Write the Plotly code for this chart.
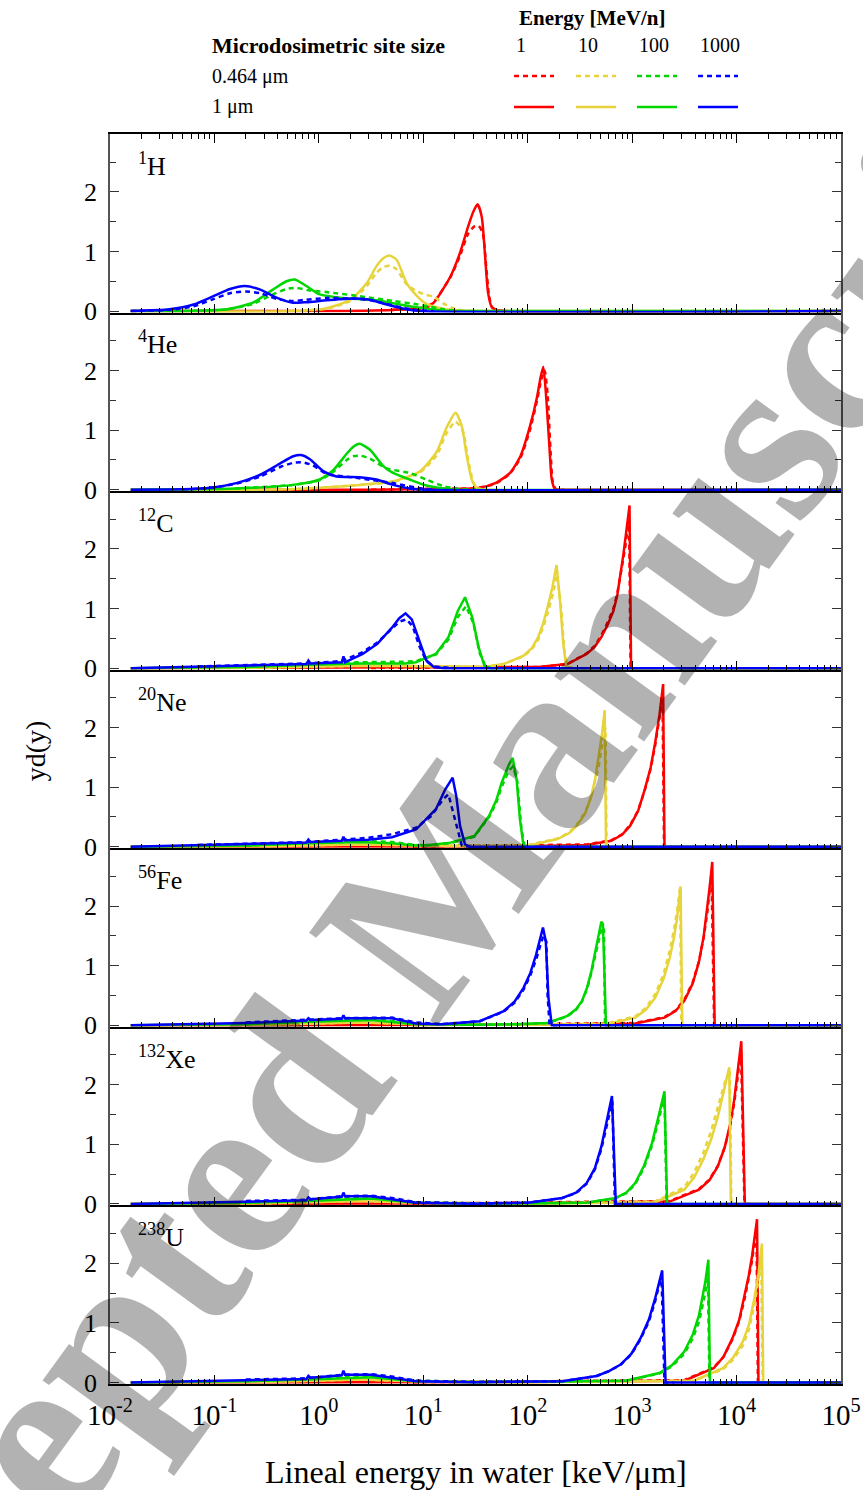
import plotly.graph_objects as go
from plotly.subplots import make_subplots

# ---------------------------------------------------------------------------
# Axis ticks
# ---------------------------------------------------------------------------
X_TICK_VALUES = [1e-2, 1e-1, 1e0, 1e1, 1e2, 1e3, 1e4, 1e5]
X_TICK_LABELS = ["10<sup>-2</sup>", "10<sup>-1</sup>", "10<sup>0</sup>", "10<sup>1</sup>",
                 "10<sup>2</sup>", "10<sup>3</sup>", "10<sup>4</sup>", "10<sup>5</sup>"]
X_MINOR_VALUES = [m * 10.0 ** p for p in range(-2, 5) for m in range(2, 10)]
Y_TICK_VALUES = [0, 1, 2]
Y_TICK_LABELS = ["0", "1", "2"]
Y_MINOR_VALUES = [0.5, 1.5, 2.5]

# ---------------------------------------------------------------------------
# Microdosimetric spectra yd(y): (lineal energy keV/um, yd(y)) pairs
# naming: <ion>_<energy MeV/n>_1um (solid) and <ion>_<energy>_0464um (dashed)
# ---------------------------------------------------------------------------
# 1H
H_1_1um = [(0.0158, 0), (1.0, 0), (5.01, 0.02), (10.7, 0.06), (12.6, 0.14), (18.2, 0.58), (22.4, 0.97),
           (26.9, 1.42), (30.2, 1.67), (33.1, 1.79), (36.3, 1.58), (38.9, 0.97), (41.7, 0.31),
           (45.2, 0.07), (50.1, 0.02), (63.1, 0), (1e5, 0)]
H_1_0464um = [(5.01, 0.02), (10.7, 0.07), (12.6, 0.15), (18.2, 0.57), (22.4, 0.92), (26.9, 1.30),
              (30.9, 1.42), (33.9, 1.43), (37.2, 1.30), (39.8, 0.80), (42.7, 0.25), (45.7, 0.06),
              (52.5, 0.01), (63.1, 0)]
H_10_1um = [(0.0158, 0), (0.562, 0), (1.19, 0.05), (2.0, 0.19), (2.88, 0.47), (3.55, 0.75), (4.17, 0.89),
            (4.79, 0.93), (5.56, 0.86), (6.92, 0.47), (8.71, 0.25), (10.7, 0.12), (15.5, 0.04),
            (22.4, 0.01), (31.6, 0), (1e5, 0)]
H_10_0464um = [(0.562, 0), (1.19, 0.04), (2.0, 0.17), (2.88, 0.42), (3.55, 0.64), (4.17, 0.74), (4.79, 0.76),
               (5.56, 0.70), (6.92, 0.45), (8.71, 0.33), (10.7, 0.27), (12.6, 0.24), (15.5, 0.13),
               (20.0, 0.04), (25.1, 0.01), (31.6, 0)]
H_100_1um = [(0.0158, 0), (0.0631, 0.005), (0.132, 0.03), (0.234, 0.14), (0.363, 0.36), (0.490, 0.50),
             (0.589, 0.53), (0.759, 0.42), (1.02, 0.28), (1.70, 0.22), (3.55, 0.18), (7.41, 0.08),
             (10.7, 0.04), (15.5, 0.01), (22.4, 0), (1e5, 0)]
H_100_0464um = [(0.0631, 0.005), (0.132, 0.03), (0.234, 0.12), (0.363, 0.28), (0.490, 0.37), (0.603, 0.39),
                (0.794, 0.35), (1.17, 0.32), (2.45, 0.25), (5.13, 0.17), (8.91, 0.11), (15.5, 0.03),
                (22.4, 0)]
H_1000_1um = [(0.0158, 0), (0.0372, 0.03), (0.0631, 0.11), (0.0977, 0.25), (0.141, 0.37), (0.195, 0.42),
              (0.275, 0.36), (0.398, 0.22), (0.562, 0.14), (0.759, 0.15), (1.19, 0.18), (2.14, 0.21),
              (3.09, 0.19), (4.47, 0.11), (6.46, 0.04), (9.33, 0), (1e5, 0)]
H_1000_0464um = [(0.0158, 0), (0.0372, 0.02), (0.0631, 0.08), (0.0977, 0.20), (0.141, 0.30), (0.20, 0.33),
                 (0.275, 0.30), (0.398, 0.20), (0.562, 0.17), (0.759, 0.19), (1.19, 0.22), (2.14, 0.21),
                 (3.09, 0.18), (4.47, 0.12), (6.46, 0.05), (9.33, 0.01), (12.6, 0)]

# 4He
He_1_1um = [(0.0158, 0), (3.16, 0), (10.0, 0.01), (33.9, 0.03), (50.1, 0.12), (67.6, 0.28), (85.1, 0.56),
            (105, 1.06), (123, 1.56), (132, 1.86), (141, 2.06), (151, 1.50), (162, 0.67), (170, 0.17),
            (182, 0.01), (224, 0), (1e5, 0)]
He_1_0464um = [(3.16, 0), (10.0, 0.01), (33.9, 0.03), (50.1, 0.11), (67.6, 0.27), (85.1, 0.53), (105, 1.0),
               (123, 1.5), (135, 1.85), (145, 2.0), (155, 1.6), (166, 0.6), (174, 0.12), (186, 0.01),
               (224, 0)]
He_10_1um = [(0.0158, 0), (0.501, 0.005), (1.19, 0.04), (2.45, 0.08), (5.13, 0.14), (9.33, 0.31),
             (13.5, 0.64), (16.6, 1.03), (20.4, 1.29), (23.4, 1.06), (26.1, 0.56), (29.1, 0.17),
             (32.4, 0.03), (39.8, 0), (1e5, 0)]
He_10_0464um = [(0.501, 0.005), (1.19, 0.04), (2.45, 0.08), (5.13, 0.13), (9.33, 0.29), (13.5, 0.58),
                (16.6, 0.94), (20.4, 1.14), (24.0, 0.98), (26.9, 0.50), (30.2, 0.12), (33.1, 0.02),
                (39.8, 0)]
He_100_1um = [(0.0158, 0), (0.158, 0.02), (0.569, 0.08), (1.02, 0.17), (1.38, 0.33), (1.86, 0.61),
              (2.14, 0.72), (2.45, 0.77), (3.09, 0.67), (4.17, 0.39), (5.13, 0.28), (7.41, 0.17),
              (10.7, 0.07), (15.5, 0.02), (22.4, 0), (1e5, 0)]
He_100_0464um = [(0.158, 0.02), (0.569, 0.08), (1.02, 0.16), (1.38, 0.30), (1.86, 0.50), (2.14, 0.56),
                 (2.51, 0.57), (3.09, 0.52), (4.37, 0.36), (7.41, 0.28), (10.7, 0.17), (15.5, 0.06),
                 (22.4, 0.01), (31.6, 0)]
He_1000_1um = [(0.0158, 0), (0.0501, 0.005), (0.0912, 0.03), (0.162, 0.11), (0.275, 0.25), (0.427, 0.44),
               (0.569, 0.56), (0.676, 0.58), (0.822, 0.51), (1.10, 0.31), (1.48, 0.22), (2.45, 0.21),
               (3.55, 0.17), (5.13, 0.08), (7.41, 0.02), (10.7, 0), (1e5, 0)]
He_1000_0464um = [(0.0501, 0.005), (0.0912, 0.03), (0.162, 0.10), (0.275, 0.22), (0.427, 0.38),
                  (0.569, 0.45), (0.692, 0.46), (0.871, 0.41), (1.17, 0.27), (2.45, 0.19), (5.13, 0.11),
                  (8.91, 0.03), (12.6, 0)]

# 12C
C_1_1um = [(0.0158, 0), (3.16, 0.005), (31.6, 0.01), (126, 0.02), (240, 0.07), (367, 0.24), (440, 0.36),
           (507, 0.52), (580, 0.72), (661, 0.96), (720, 1.22), (776, 1.57), (820, 1.88), (871, 2.24),
           (910, 2.5), (944, 2.73), (977, 0), (1e5, 0)]
C_1_0464um = [(3.16, 0.005), (31.6, 0.02), (126, 0.02), (240, 0.07), (367, 0.25), (440, 0.38), (507, 0.55),
              (580, 0.76), (661, 1.0), (720, 1.25), (776, 1.55), (820, 1.82), (871, 2.1), (905, 2.35),
              (933, 2.57), (966, 0), (1260, 0)]
C_10_1um = [(0.0158, 0), (0.316, 0.01), (2.51, 0.04), (7.94, 0.04), (20.0, 0.03), (38.5, 0.02), (58.9, 0.07),
            (91.2, 0.21), (110, 0.34), (126, 0.52), (140, 0.74), (155, 1.02), (172, 1.35), (189, 1.73),
            (204, 1.13), (219, 0.41), (234, 0.02), (282, 0), (1e5, 0)]
C_10_0464um = [(0.316, 0.01), (2.51, 0.04), (7.94, 0.04), (20.0, 0.03), (38.5, 0.02), (58.9, 0.07),
               (91.2, 0.20), (110, 0.32), (126, 0.48), (140, 0.68), (155, 0.92), (174, 1.24), (191, 1.57),
               (209, 1.0), (224, 0.30), (240, 0.02), (282, 0)]
C_100_1um = [(0.0158, 0), (0.2, 0.02), (0.794, 0.06), (2.51, 0.08), (6.76, 0.08), (8.51, 0.10), (13.2, 0.24),
             (17.4, 0.52), (21.4, 0.96), (25.1, 1.19), (29.5, 0.85), (33.9, 0.35), (38.5, 0.04),
             (44.7, 0), (1e5, 0)]
C_100_0464um = [(0.2, 0.02), (0.794, 0.07), (2.51, 0.10), (6.76, 0.11), (8.51, 0.12), (13.2, 0.23),
                (17.4, 0.48), (21.4, 0.86), (25.7, 1.04), (30.2, 0.75), (34.7, 0.25), (39.8, 0.02),
                (44.7, 0)]
C_1000_1um = [(0.0158, 0), (0.0692, 0.03), (0.2, 0.04), (0.759, 0.07), (0.794, 0.13), (0.832, 0.08),
              (1.66, 0.10), (1.72, 0.20), (1.78, 0.10), (2.63, 0.24), (3.63, 0.41), (5.01, 0.68),
              (5.89, 0.84), (6.76, 0.92), (7.76, 0.82), (9.12, 0.46), (10.7, 0.13), (12.6, 0.02),
              (15.8, 0), (1e5, 0)]
C_1000_0464um = [(0.0692, 0.03), (0.2, 0.05), (0.759, 0.08), (1.66, 0.12), (2.63, 0.27), (3.63, 0.43),
                 (5.01, 0.66), (5.89, 0.78), (6.92, 0.82), (7.94, 0.70), (9.12, 0.38), (10.7, 0.12),
                 (12.6, 0.03), (15.8, 0.01), (20.0, 0)]

# 20Ne
Ne_1_1um = [(0.0158, 0), (7.94, 0.005), (79.4, 0.01), (367, 0.03), (631, 0.10), (800, 0.20), (955, 0.35),
            (1140, 0.60), (1320, 0.96), (1500, 1.32), (1660, 1.74), (1830, 2.22), (1980, 2.73), (2040, 0),
            (1e5, 0)]
Ne_1_0464um = [(7.94, 0.005), (79.4, 0.02), (367, 0.04), (631, 0.11), (800, 0.21), (955, 0.36),
               (1140, 0.61), (1320, 0.95), (1500, 1.3), (1660, 1.7), (1820, 2.15), (1950, 2.6), (2020, 0),
               (2510, 0)]
Ne_10_1um = [(0.0158, 0), (0.316, 0.01), (2.51, 0.04), (8.51, 0.02), (31.6, 0.01), (101, 0.02), (193, 0.13),
             (250, 0.23), (295, 0.35), (355, 0.56), (407, 0.85), (445, 1.16), (479, 1.52), (515, 1.9),
             (546, 2.29), (562, 0), (1e5, 0)]
Ne_10_0464um = [(0.316, 0.01), (2.51, 0.04), (8.51, 0.02), (31.6, 0.02), (101, 0.03), (193, 0.14),
                (250, 0.24), (295, 0.37), (355, 0.58), (407, 0.85), (445, 1.1), (479, 1.35), (537, 1.9),
                (556, 2.0), (569, 0), (708, 0)]
Ne_100_1um = [(0.0158, 0), (0.2, 0.02), (0.794, 0.06), (2.51, 0.08), (5.01, 0.06), (8.51, 0.02),
              (11.5, 0.03), (18.2, 0.07), (30.9, 0.18), (42.7, 0.52), (50.0, 0.78), (56.2, 1.07), (66.1, 1.38),
              (71.8, 1.49), (78.3, 1.13), (84.3, 0.46), (91.0, 0.02), (100, 0), (1e5, 0)]
Ne_100_0464um = [(0.2, 0.02), (0.794, 0.07), (2.51, 0.10), (5.01, 0.08), (8.51, 0.03), (11.5, 0.03),
                 (18.2, 0.06), (30.9, 0.17), (42.7, 0.50), (50.0, 0.74), (56.2, 1.0), (66.1, 1.28),
                 (72.4, 1.35), (79.4, 1.1), (87.1, 0.30), (93.3, 0.02), (100, 0)]
Ne_1000_1um = [(0.0158, 0), (0.0692, 0.03), (0.2, 0.04), (0.759, 0.07), (0.794, 0.12), (0.832, 0.08),
               (1.66, 0.10), (1.72, 0.17), (1.78, 0.11), (2.95, 0.12), (5.01, 0.16), (8.51, 0.29),
               (13.2, 0.63), (16.2, 0.96), (19.1, 1.16), (20.7, 0.85), (22.5, 0.35), (25.1, 0.04),
               (28.2, 0), (1e5, 0)]
Ne_1000_0464um = [(0.0692, 0.03), (0.2, 0.05), (0.759, 0.08), (1.66, 0.12), (2.95, 0.15), (5.01, 0.21),
                  (8.51, 0.32), (12.0, 0.52), (15.5, 0.80), (17.4, 0.88), (19.1, 0.60), (21.4, 0.30),
                  (23.4, 0.02), (28.2, 0)]

# 56Fe
Fe_1_1um = [(0.0158, 0), (7.94, 0.005), (158, 0.01), (1070, 0.03), (2040, 0.13), (2600, 0.24), (3160, 0.41),
            (3800, 0.70), (4370, 1.07), (4850, 1.50), (5250, 1.96), (5550, 2.35), (5850, 2.74), (6170, 0),
            (1e5, 0)]
Fe_1_0464um = [(7.94, 0.005), (158, 0.02), (1070, 0.04), (2040, 0.14), (2600, 0.25), (3160, 0.43),
               (3800, 0.72), (4370, 1.08), (4850, 1.48), (5250, 1.9), (5750, 2.55), (6100, 0), (7080, 0)]
Fe_10_1um = [(0.0158, 0), (0.316, 0.01), (2.51, 0.05), (8.51, 0.02), (100, 0.01), (562, 0.02), (1070, 0.13),
             (1350, 0.26), (1660, 0.46), (2000, 0.78), (2290, 1.13), (2500, 1.45), (2690, 1.79),
             (2910, 2.33), (3020, 0), (1e5, 0)]
Fe_10_0464um = [(0.316, 0.01), (2.51, 0.05), (8.51, 0.02), (100, 0.01), (562, 0.03), (1070, 0.15),
                (1350, 0.29), (1660, 0.52), (2000, 0.86), (2290, 1.25), (2500, 1.58), (2690, 1.9),
                (2880, 2.33), (2950, 0), (3550, 0)]
Fe_100_1um = [(0.0158, 0), (0.2, 0.02), (0.794, 0.06), (3.16, 0.09), (8.51, 0.02), (31.6, 0.01),
              (79.4, 0.02), (155, 0.04), (240, 0.16), (290, 0.27), (331, 0.41), (370, 0.63), (407, 0.91),
              (468, 1.41), (507, 1.74), (525, 1.70), (562, 0), (1e5, 0)]
Fe_100_0464um = [(0.2, 0.02), (0.794, 0.07), (3.16, 0.11), (8.51, 0.03), (31.6, 0.01), (79.4, 0.02),
                 (155, 0.04), (240, 0.15), (290, 0.26), (331, 0.40), (370, 0.61), (407, 0.88), (468, 1.35),
                 (513, 1.65), (537, 1.6), (550, 0), (631, 0)]
Fe_1000_1um = [(0.0158, 0), (0.2, 0.04), (0.759, 0.08), (0.794, 0.12), (0.832, 0.09), (1.66, 0.11),
               (1.72, 0.17), (1.78, 0.12), (5.01, 0.12), (8.51, 0.03), (14.8, 0.02), (34.7, 0.07),
               (58.9, 0.24), (75.0, 0.40), (91.2, 0.63), (106, 0.88), (120, 1.18), (140, 1.64), (149, 1.41),
               (158, 0.46), (170, 0), (1e5, 0)]
Fe_1000_0464um = [(0.2, 0.05), (0.759, 0.09), (1.66, 0.12), (5.01, 0.13), (8.51, 0.05), (14.8, 0.02),
                  (34.7, 0.07), (58.9, 0.23), (75.0, 0.38), (91.2, 0.60), (106, 0.84), (120, 1.1), (141, 1.5),
                  (151, 1.4), (155, 0.5), (162, 0), (200, 0)]

# 132Xe
Xe_1_1um = [(0.0158, 0), (7.94, 0.005), (100, 0.01), (2290, 0.04), (4370, 0.24), (5500, 0.40), (6610, 0.63),
            (7700, 0.95), (8710, 1.35), (9500, 1.75), (10200, 2.18), (11100, 2.73), (12000, 0), (1e5, 0)]
Xe_1_0464um = [(7.94, 0.005), (100, 0.02), (2290, 0.05), (4370, 0.25), (5500, 0.41), (6610, 0.64),
               (7700, 0.95), (8710, 1.32), (9500, 1.7), (10200, 2.1), (11000, 2.6), (11900, 0), (14100, 0)]
Xe_10_1um = [(0.0158, 0), (0.316, 0.01), (2.51, 0.05), (8.51, 0.02), (100, 0.005), (1660, 0.03),
             (3160, 0.24), (3900, 0.44), (4790, 0.74), (5700, 1.08), (6610, 1.46), (7760, 1.96),
             (8510, 2.29), (8810, 0), (1e5, 0)]
Xe_10_0464um = [(0.316, 0.01), (2.51, 0.05), (8.51, 0.02), (100, 0.01), (1660, 0.04), (3160, 0.28),
                (3900, 0.52), (4790, 0.85), (5700, 1.22), (6610, 1.6), (7760, 2.05), (8610, 2.25),
                (8910, 0), (10000, 0)]
Xe_100_1um = [(0.0158, 0), (0.2, 0.02), (0.794, 0.05), (3.16, 0.09), (8.51, 0.02), (31.6, 0.005),
              (367, 0.02), (698, 0.10), (880, 0.19), (1070, 0.35), (1300, 0.64), (1550, 1.02),
              (1820, 1.52), (2040, 1.89), (2160, 0), (1e5, 0)]
Xe_100_0464um = [(0.2, 0.02), (0.794, 0.06), (3.16, 0.11), (8.51, 0.03), (31.6, 0.01), (367, 0.02),
                 (698, 0.10), (880, 0.18), (1070, 0.33), (1300, 0.61), (1550, 0.98), (1820, 1.45),
                 (2040, 1.8), (2140, 0), (2510, 0)]
Xe_1000_1um = [(0.0158, 0), (0.2, 0.04), (0.759, 0.06), (0.794, 0.11), (0.832, 0.08), (1.66, 0.12),
               (1.72, 0.19), (1.78, 0.13), (3.16, 0.13), (5.01, 0.08), (8.51, 0.02), (31.6, 0.005),
               (101, 0.02), (214, 0.10), (290, 0.19), (367, 0.35), (440, 0.60), (507, 0.96), (596, 1.52),
               (641, 1.81), (698, 0), (1e5, 0)]
Xe_1000_0464um = [(0.2, 0.05), (0.759, 0.07), (1.66, 0.13), (3.16, 0.14), (5.01, 0.10), (8.51, 0.03),
                  (31.6, 0.01), (101, 0.02), (214, 0.10), (290, 0.18), (367, 0.34), (440, 0.58), (507, 0.92),
                  (596, 1.45), (646, 1.72), (684, 0), (794, 0)]

# 238U
U_1_1um = [(0.0158, 0), (7.94, 0.005), (100, 0.01), (3160, 0.03), (6030, 0.24), (7500, 0.43), (9120, 0.74),
           (10600, 1.05), (12000, 1.46), (13100, 1.80), (14100, 2.13), (15700, 2.74), (16200, 0), (1e5, 0)]
U_1_0464um = [(7.94, 0.005), (100, 0.02), (3160, 0.04), (6030, 0.25), (7500, 0.43), (9120, 0.72),
              (10600, 1.03), (12000, 1.42), (13100, 1.74), (14100, 2.05), (15500, 2.6), (16000, 0), (20000, 0)]
U_10_1um = [(0.0158, 0), (0.316, 0.01), (2.51, 0.05), (8.51, 0.02), (100, 0.005), (3890, 0.03), (7410, 0.24),
            (9300, 0.42), (11500, 0.69), (13200, 0.98), (14800, 1.41), (16300, 1.85), (17500, 2.33),
            (18000, 0), (1e5, 0)]
U_10_0464um = [(0.316, 0.01), (2.51, 0.05), (8.51, 0.02), (100, 0.01), (3890, 0.03), (7410, 0.22),
               (9300, 0.39), (11500, 0.62), (13200, 0.90), (14800, 1.3), (16200, 1.72), (17200, 2.1),
               (17800, 0), (20000, 0)]
U_100_1um = [(0.0158, 0), (0.2, 0.02), (0.794, 0.05), (3.16, 0.09), (8.51, 0.02), (31.6, 0.005), (871, 0.03),
             (1820, 0.16), (2400, 0.29), (3160, 0.52), (3800, 0.80), (4370, 1.13), (5010, 1.68),
             (5370, 2.06), (5560, 0), (1e5, 0)]
U_100_0464um = [(0.2, 0.02), (0.794, 0.06), (3.16, 0.11), (8.51, 0.03), (31.6, 0.01), (871, 0.03),
                (1820, 0.15), (2400, 0.27), (3160, 0.48), (3800, 0.74), (4370, 1.02), (5010, 1.5),
                (5310, 1.75), (5500, 0), (6310, 0)]
U_1000_1um = [(0.0158, 0), (0.2, 0.04), (0.759, 0.06), (0.794, 0.11), (0.832, 0.08), (1.66, 0.12),
              (1.72, 0.20), (1.78, 0.13), (3.16, 0.13), (5.01, 0.08), (8.51, 0.02), (31.6, 0.005),
              (214, 0.02), (457, 0.11), (600, 0.19), (776, 0.30), (980, 0.48), (1200, 0.74), (1450, 1.06),
              (1660, 1.41), (1940, 1.88), (2090, 0), (1e5, 0)]
U_1000_0464um = [(0.2, 0.05), (0.759, 0.07), (1.66, 0.13), (3.16, 0.14), (5.01, 0.10), (8.51, 0.03),
                 (31.6, 0.01), (214, 0.02), (457, 0.11), (600, 0.19), (776, 0.30), (980, 0.47), (1200, 0.72),
                 (1450, 1.03), (1660, 1.36), (1910, 1.8), (2040, 0), (2510, 0)]

IONS = ["H", "He", "C", "Ne", "Fe", "Xe", "U"]
ION_LABELS = ["<sup>1</sup>H", "<sup>4</sup>He", "<sup>12</sup>C", "<sup>20</sup>Ne",
              "<sup>56</sup>Fe", "<sup>132</sup>Xe", "<sup>238</sup>U"]
ENERGIES = [1, 10, 100, 1000]
ENERGY_LABELS = ["1", "10", "100", "1000"]
SITE_LABELS = ["0.464 \u03bcm", "1 \u03bcm"]
COLORS = ["#ff0000", "#e6d43a", "#00d600", "#0000ff"]

# (ion, energy) -> (0.464 um spectrum, 1 um spectrum)
SPECTRA = {
    ("H", 1): (H_1_0464um, H_1_1um), ("H", 10): (H_10_0464um, H_10_1um),
    ("H", 100): (H_100_0464um, H_100_1um), ("H", 1000): (H_1000_0464um, H_1000_1um),
    ("He", 1): (He_1_0464um, He_1_1um), ("He", 10): (He_10_0464um, He_10_1um),
    ("He", 100): (He_100_0464um, He_100_1um), ("He", 1000): (He_1000_0464um, He_1000_1um),
    ("C", 1): (C_1_0464um, C_1_1um), ("C", 10): (C_10_0464um, C_10_1um),
    ("C", 100): (C_100_0464um, C_100_1um), ("C", 1000): (C_1000_0464um, C_1000_1um),
    ("Ne", 1): (Ne_1_0464um, Ne_1_1um), ("Ne", 10): (Ne_10_0464um, Ne_10_1um),
    ("Ne", 100): (Ne_100_0464um, Ne_100_1um), ("Ne", 1000): (Ne_1000_0464um, Ne_1000_1um),
    ("Fe", 1): (Fe_1_0464um, Fe_1_1um), ("Fe", 10): (Fe_10_0464um, Fe_10_1um),
    ("Fe", 100): (Fe_100_0464um, Fe_100_1um), ("Fe", 1000): (Fe_1000_0464um, Fe_1000_1um),
    ("Xe", 1): (Xe_1_0464um, Xe_1_1um), ("Xe", 10): (Xe_10_0464um, Xe_10_1um),
    ("Xe", 100): (Xe_100_0464um, Xe_100_1um), ("Xe", 1000): (Xe_1000_0464um, Xe_1000_1um),
    ("U", 1): (U_1_0464um, U_1_1um), ("U", 10): (U_10_0464um, U_10_1um),
    ("U", 100): (U_100_0464um, U_100_1um), ("U", 1000): (U_1000_0464um, U_1000_1um),
}

FONT = "Liberation Serif"
DASH = "5px,4px"
LINE_W = 2.5

fig = make_subplots(rows=len(IONS), cols=1, shared_xaxes=True, vertical_spacing=0)

for r, ion in enumerate(IONS, start=1):
    smooth = ion in ("H", "He")
    for e, color in zip(ENERGIES, COLORS):
        small, large = SPECTRA[(ion, e)]
        for pts, dash in ((small, DASH), (large, "solid")):
            line = dict(color=color, width=LINE_W, dash=dash)
            if smooth:
                line.update(shape="spline", smoothing=0.6)
            fig.add_trace(go.Scatter(x=[p[0] for p in pts], y=[p[1] for p in pts],
                                     mode="lines", line=line, hoverinfo="skip",
                                     showlegend=False), row=r, col=1)

    fig.update_xaxes(type="log", range=[-2, 5], showgrid=False, zeroline=False, automargin=False,
                     showline=True, linecolor="black", linewidth=1.5,
                     ticks="inside", ticklen=9, tickwidth=1.3, tickcolor="black",
                     tickvals=X_TICK_VALUES, ticktext=X_TICK_LABELS,
                     showticklabels=(r == len(IONS)), ticklabelstandoff=4,
                     tickfont=dict(family=FONT, size=29, color="black"),
                     minor=dict(ticks="inside", ticklen=5, tickwidth=1, tickcolor="black",
                                tickvals=X_MINOR_VALUES, showgrid=False),
                     mirror=("ticks" if r == 1 else False), row=r, col=1)
    fig.update_yaxes(range=[-0.025, 2.97], showgrid=False, zeroline=False, automargin=False,
                     showline=True, linecolor="#555555", linewidth=1.8,
                     ticks="inside", ticklen=9, tickwidth=1.3, tickcolor="#333333",
                     tickvals=Y_TICK_VALUES, ticktext=Y_TICK_LABELS, ticklabelstandoff=6,
                     tickfont=dict(family=FONT, size=26, color="black"),
                     minor=dict(ticks="inside", ticklen=6, tickwidth=1, tickcolor="#333333",
                                tickvals=Y_MINOR_VALUES, showgrid=False),
                     mirror="ticks", row=r, col=1)

annotations = []
for r, label in enumerate(ION_LABELS, start=1):
    suffix = "" if r == 1 else str(r)
    annotations.append(dict(text=label, xref=f"x{suffix} domain", yref=f"y{suffix} domain",
                            x=0.036, y=0.83, xanchor="left", yanchor="middle", showarrow=False,
                            font=dict(family=FONT, size=26, color="black")))

# axis titles
annotations.append(dict(text="Lineal energy in water [keV/\u03bcm]", xref="paper", yref="paper",
                        x=0.5, y=-0.0704, xanchor="center", yanchor="middle", showarrow=False,
                        font=dict(family=FONT, size=32, color="black")))
annotations.append(dict(text="yd(y)", xref="paper", yref="paper", x=-0.1026, y=0.507,
                        xanchor="center", yanchor="middle", textangle=-90, showarrow=False,
                        font=dict(family=FONT, size=28, color="black")))

# key: energy columns and site-size rows
key_x = [0.5527, 0.6375, 0.7209, 0.8044]
key_len = 0.0547
row_y = [1.0464, 1.0216]
annotations.append(dict(text="<b>Energy [MeV/n]</b>", xref="paper", yref="paper", x=0.66, y=1.0928,
                        xanchor="center", yanchor="middle", showarrow=False,
                        font=dict(family=FONT, size=21, color="black")))
annotations.append(dict(text="<b>Microdosimetric site size</b>", xref="paper", yref="paper",
                        x=0.1368, y=1.0712, xanchor="left", yanchor="middle", showarrow=False,
                        font=dict(family=FONT, size=22, color="black")))
for xk, lab in zip(key_x, ENERGY_LABELS):
    annotations.append(dict(text=lab, xref="paper", yref="paper", x=xk, y=1.0712,
                            xanchor="left", yanchor="middle", showarrow=False,
                            font=dict(family=FONT, size=20, color="black")))
for yk, lab in zip(row_y, SITE_LABELS):
    annotations.append(dict(text=lab, xref="paper", yref="paper", x=0.1368, y=yk,
                            xanchor="left", yanchor="middle", showarrow=False,
                            font=dict(family=FONT, size=20, color="black")))

shapes = []
for xk, color in zip(key_x, COLORS):
    for yk, dash in zip(row_y, (DASH, "solid")):
        shapes.append(dict(type="line", xref="paper", yref="paper", x0=xk, x1=xk + key_len,
                           y0=yk, y1=yk, line=dict(color=color, width=LINE_W, dash=dash)))

# watermark
annotations.append(dict(text="<b>Accepted Manuscript</b>", xref="paper", yref="paper", x=0.432, y=0.386,
                        xanchor="center", yanchor="middle", textangle=-54, showarrow=False,
                        font=dict(family=FONT, size=242, color="rgba(0,0,0,0.3)")))

fig.update_layout(width=863, height=1490, margin=dict(l=110, r=22, t=134, b=106),
                  plot_bgcolor="white", paper_bgcolor="white", showlegend=False,
                  font=dict(family=FONT, color="black"),
                  annotations=annotations, shapes=shapes)

fig.write_html("out.html")
